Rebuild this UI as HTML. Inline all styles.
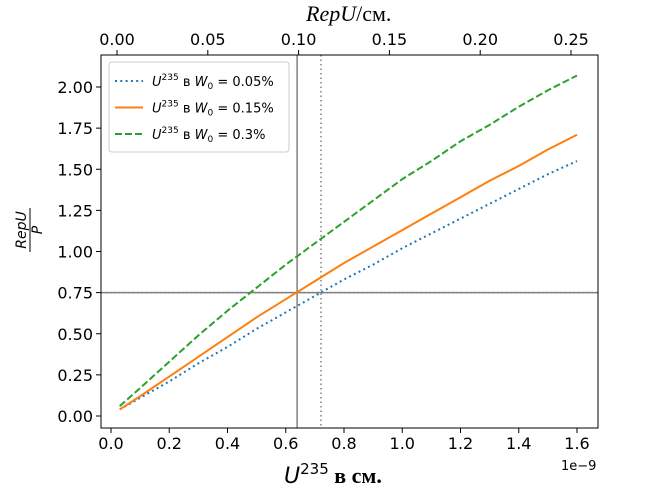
<!DOCTYPE html>
<html><head><meta charset="utf-8"><style>
body{margin:0;background:#fff;}
</style></head><body>
<svg id="chart" width="662" height="487" xmlns="http://www.w3.org/2000/svg" font-family="DejaVu Sans, Liberation Sans, sans-serif">
<rect width="662" height="487" fill="#fff"/>
<g id="plot"></g>
</svg>
<script>
const xs = [0.03,0.1,0.2,0.3,0.4,0.5,0.6,0.7,0.8,0.9,1.0,1.1,1.2,1.3,1.4,1.5,1.6];
const blueVals = [0.04,0.11,0.21,0.32,0.42,0.53,0.63,0.73,0.83,0.92,1.02,1.11,1.2,1.29,1.38,1.47,1.55];
const orangeVals = [0.04,0.12,0.24,0.36,0.48,0.6,0.71,0.82,0.93,1.03,1.13,1.23,1.33,1.43,1.52,1.62,1.71];
const greenVals = [0.06,0.17,0.33,0.49,0.64,0.78,0.92,1.05,1.18,1.31,1.44,1.55,1.67,1.77,1.88,1.98,2.07];
const xTicks = [0.0,0.2,0.4,0.6,0.8,1.0,1.2,1.4,1.6];
const yTicks = [0,0.25,0.5,0.75,1.0,1.25,1.5,1.75,2.0];
const topTicks = [0,0.05,0.1,0.15,0.2,0.25];
const vSolid = 0.639, vDotted = 0.721, hLine = 0.75;

const L=101,R=598,T=55,B=428;
const sx=v=>111+v*291.25;
const sy=v=>416-v*164.5;
const tx=v=>117+v*1816;
const NS="http://www.w3.org/2000/svg";
const g=document.getElementById('plot');
function el(tag,attrs,text){const e=document.createElementNS(NS,tag);for(const k in attrs)e.setAttribute(k,attrs[k]);if(text!==undefined)e.textContent=text;g.appendChild(e);return e;}

xTicks.forEach(v=>{
  const t=el('line',{x1:sx(v),x2:sx(v),y1:B,y2:B+5,stroke:'#000'});
  
  
  const l=el('text',{x:sx(v),y:B+21,'text-anchor':'middle','font-size':16},v.toFixed(1));
  
  
});
yTicks.forEach(v=>{
  const t=el('line',{x1:L-5,x2:L,y1:sy(v),y2:sy(v),stroke:'#000'});
  
  
  const l=el('text',{x:L-8,y:sy(v)+6,'text-anchor':'end','font-size':16},v.toFixed(2));
  
  
});
topTicks.forEach(v=>{
  const t=el('line',{x1:tx(v),x2:tx(v),y1:T-5,y2:T,stroke:'#000'});
  
  
  const l=el('text',{x:tx(v),y:T-10,'text-anchor':'middle','font-size':16},v.toFixed(2));
  
  
});

function ref(attrs,name){const e=el('line',attrs);}
ref({x1:sx(vSolid),x2:sx(vSolid),y1:T,y2:B,stroke:'#808080','stroke-width':1.5},'vertical-line-solid');
ref({x1:sx(vDotted),x2:sx(vDotted),y1:T,y2:B,stroke:'#808080','stroke-width':1.5,'stroke-dasharray':'1.5,3'},'vertical-line-dotted');
ref({x1:L,x2:R,y1:sy(hLine),y2:sy(hLine),stroke:'#808080','stroke-width':1.5},'horizontal-line-solid');
ref({x1:L,x2:R,y1:sy(hLine),y2:sy(hLine),stroke:'#808080','stroke-width':1.5,'stroke-dasharray':'1.5,3'},'horizontal-line-dotted');

function series(vals,color,dash,name){
  const d=xs.map((x,i)=>(i?'L':'M')+sx(x)+','+sy(vals[i])).join(' ');
  const p=el('path',{d:d,fill:'none',stroke:color,'stroke-width':2,'stroke-dasharray':dash,'stroke-linejoin':'round'});
  
  
}
series(blueVals,'#1f77b4','2,3.3','series-0-05');
series(orangeVals,'#ff7f0e','none','series-0-15');
series(greenVals,'#2ca02c','7,3','series-0-3');

const frame=el('rect',{x:L,y:T,width:R-L,height:B-T,fill:'none',stroke:'#000','stroke-width':1});



const lg=el('rect',{x:109,y:62,width:180,height:90,fill:'#fff','fill-opacity':0.8,stroke:'#ccc',rx:3});


[['#1f77b4','2,3.3','0.05%'],['#ff7f0e','none','0.15%'],['#2ca02c','7,3','0.3%']].forEach((s,i)=>{
  const y=81+i*26.5;
  const ln=el('line',{x1:115,x2:143,y1:y,y2:y,stroke:s[0],'stroke-width':2,'stroke-dasharray':s[1]});
  
  
  const t=el('text',{x:152,y:y+5,'font-size':13});
  t.innerHTML='<tspan font-style="italic">U</tspan><tspan font-size="9" dy="-6">235</tspan><tspan dy="6"> в </tspan><tspan font-style="italic">W</tspan><tspan font-size="9" dy="3">0</tspan><tspan dy="-3"> = '+s[2]+'</tspan>';
  
  
});

const sci=el('text',{x:561,y:470,'font-size':13},'1e−9');


const xt=el('text',{x:284,y:483,'font-size':22,'font-family':'Liberation Serif, serif'});
xt.innerHTML='<tspan font-style="italic" font-family="DejaVu Sans, sans-serif">U</tspan><tspan font-size="15" dy="-9" font-family="DejaVu Sans, sans-serif">235</tspan><tspan dy="9" font-weight="bold"> в  см.</tspan>';


const tt=el('text',{x:306,y:21,'font-size':22,'font-family':'Liberation Serif, serif'});
tt.innerHTML='<tspan font-style="italic">RepU</tspan>/см.';


const yt=el('g',{transform:'translate(30,230) rotate(-90)'});


yt.innerHTML='<text x="0" y="-4" text-anchor="middle" font-size="14" font-style="italic">RepU</text><line x1="-22" x2="22" y1="0" y2="0" stroke="#000"/><text x="0" y="12" text-anchor="middle" font-size="14" font-style="italic">P</text>';
</script>
</body></html>
